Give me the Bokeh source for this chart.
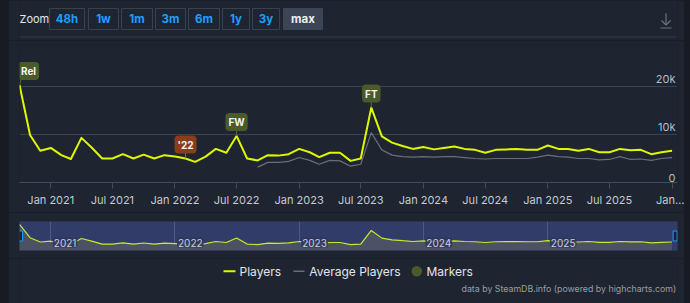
import pandas as pd
from bokeh.plotting import figure
from bokeh.models import Range1d, FixedTicker, CustomJSTickFormatter, ColumnDataSource, Spacer
from bokeh.layouts import row, column
from bokeh.core.properties import value
from bokeh.embed import file_html
from bokeh.resources import INLINE

# ---------------- data ----------------
first_month = "2020-10-01"
last_month = "2026-01-01"
players = [20.3, 9.9, 6.6,
           7.2, 5.7, 4.9, 9.3, 7.3, 5.0, 5.0, 5.9, 5.0, 5.8, 5.0, 5.7,
           5.4, 5.0, 4.3, 5.4, 7.0, 6.2, 9.7, 5.0, 4.6, 5.7, 5.6, 5.9,
           7.0, 6.3, 5.3, 6.2, 6.2, 4.5, 5.0, 15.6, 9.6, 8.3, 7.6, 7.0,
           7.4, 6.9, 7.2, 7.5, 7.0, 6.8, 6.2, 6.8, 6.9, 7.0, 6.8, 6.8,
           7.7, 7.0, 7.0, 6.6, 7.0, 6.3, 6.3, 7.0, 6.7, 6.8, 5.9, 6.3,
           6.6]  # thousands

avg_first_month = "2022-09-01"
avg_players = [3.2, 4.2, 4.2, 4.4,
               5.2, 4.6, 3.8, 4.6, 4.5, 3.4, 3.8, 10.4, 6.8, 5.7, 5.4, 5.3,
               5.4, 5.3, 5.4, 5.4, 5.2, 5.0, 4.9, 5.0, 5.0, 5.0, 5.0, 5.3,
               5.7, 5.4, 5.3, 5.0, 5.0, 4.7, 4.8, 5.4, 4.8, 4.9, 4.6, 5.0,
               5.2]  # thousands

marker_labels = ["Rel", "'22", "FW", "FT"]
marker_dates = ["2020-10-01", "2022-02-01", "2022-07-01", "2023-08-01"]
marker_types = ["release", "sale", "update", "update"]

tick_dates = ["2021-01-01", "2021-07-01", "2022-01-01", "2022-07-01", "2023-01-01", "2023-07-01",
              "2024-01-01", "2024-07-01", "2025-01-01", "2025-07-01", "2026-01-01"]
tick_labels = ["Jan 2021", "Jul 2021", "Jan 2022", "Jul 2022", "Jan 2023", "Jul 2023",
               "Jan 2024", "Jul 2024", "Jan 2025", "Jul 2025", "Jan\u2026"]
y_ticks = [0, 10000, 20000]
y_tick_labels = ["0", "10k", "20k"]
nav_years = ["2021", "2022", "2023", "2024", "2025"]
zoom_buttons = ["48h", "1w", "1m", "3m", "6m", "1y", "3y", "max"]
legend_names = ["Players", "Average Players", "Markers"]
credit_text = "data by SteamDB.info (powered by highcharts.com)"

# ---------------- styles ----------------
BG = "#1f2431"
PAGE = "#181b21"
YELLOW = "#def800"
GREY = "#6a6e77"
FONT = "Inter"
OLIVE = "#4a5a2a"
BROWN = "#8b3d1b"

months = pd.date_range(first_month, last_month, freq="MS")
avg_months = pd.date_range(avg_first_month, last_month, freq="MS")
players_v = [v * 1000 for v in players]
avg_v = [v * 1000 for v in avg_players]

x_start = pd.Timestamp(first_month)
x_end = pd.Timestamp("2026-01-17")

def to_ms(d):
    return int(pd.Timestamp(d).value // 10**6)

tick_ms = [to_ms(d) for d in tick_dates]

# frames of all stacked figures are aligned to page x 19..677
PX0, PX1 = 19, 677

# ---------------- top bar ----------------
top = figure(width=676, height=40, x_range=Range1d(PX0, PX1), y_range=Range1d(40, 0),
             x_axis_location=None, y_axis_location=None, min_border=0,
             min_border_left=11, min_border_right=7,
             toolbar_location=None, output_backend="svg",
             background_fill_color=BG, border_fill_color=BG, outline_line_color=None)
top.grid.visible = False
top.text(x=[19], y=[18.5], text=["Zoom"], text_color="#e2e5ea", text_font=value(FONT),
         text_font_size="11px", text_align="left", text_baseline="middle")
btn_left = [49, 88, 121, 155, 188, 222, 252, 283]
btn_right = [84, 118, 152, 185, 219, 249, 279, 322]
btn_fill = [BG] * 7 + ["#3b4556"]
btn_line = ["#364152"] * 7 + ["#3b4556"]
btn_text_col = ["#1a9fff"] * 7 + ["#eceef2"]
top.quad(left=btn_left, right=btn_right, top=[8] * 8, bottom=[29] * 8,
         fill_color=btn_fill, line_color=btn_line, line_width=1)
top.text(x=[(a + b) / 2 for a, b in zip(btn_left, btn_right)], y=[18.5] * 8, text=zoom_buttons,
         text_color=btn_text_col, text_font=value(FONT), text_font_style="bold",
         text_font_size="11.5px", text_align="center", text_baseline="middle")
top.segment(x0=[19], y0=[36.5], x1=[676], y1=[36.5], line_color="#323a47", line_width=1)
# download icon
top.segment(x0=[665.5, 661, 665.5, 660], y0=[13, 20, 24.5, 27.5],
            x1=[665.5, 665.5, 670, 671], y1=[24.5, 24.5, 20, 27.5],
            line_color="#6c7480", line_width=1.2)

# ---------------- main chart ----------------
main = figure(width=676, height=172, x_axis_type="datetime",
              x_range=Range1d(x_start, x_end), y_range=Range1d(0, 28750),
              y_axis_location=None, toolbar_location=None, output_backend="svg",
              min_border_left=11, min_border_right=7, min_border_top=4, min_border_bottom=30,
              background_fill_color=BG, border_fill_color=BG, outline_line_color=None)
main.xgrid.grid_line_color = None
main.ygrid.ticker = FixedTicker(ticks=[10000, 20000])
main.ygrid.grid_line_color = "#3a414f"
ax = main.xaxis[0]
ax.ticker = FixedTicker(ticks=tick_ms)
ax.formatter = CustomJSTickFormatter(args=dict(tvals=tick_ms, tlabels=tick_labels),
                                     code="const i = tvals.indexOf(tick); return i >= 0 ? tlabels[i] : '';")
ax.axis_line_color = "#3e4b60"
ax.major_tick_line_color = "#3e4b60"
ax.major_tick_out = 6
ax.major_tick_in = 0
ax.minor_tick_line_color = None
ax.major_label_text_color = "#c6cad2"
ax.major_label_text_font = FONT
ax.major_label_text_font_size = "11px"
ax.major_label_standoff = 4

main.line(avg_months, avg_v, line_color=GREY, line_width=1.2)
main.line(months, players_v, line_color=YELLOW, line_width=2, line_join="round")

main.text(x=[x_end] * 3, y=y_ticks, text=y_tick_labels, text_color="#b8bcc5",
          text_font=value(FONT), text_font_size="11px", text_align="right",
          text_baseline="bottom", x_offset=-2, y_offset=-1)

# markers (flags)
m_dates = [pd.Timestamp(d) for d in marker_dates]
m_vals = [players_v[list(months).index(d)] for d in m_dates]
m_fill = [BROWN if t == "sale" else OLIVE for t in marker_types]
m_conn = ["#c2561f" if t == "sale" else "#5c6b38" for t in marker_types]
m_dx = [9 if t == "release" else 0 for t in marker_types]
m_x1 = [d + pd.Timedelta(days=9) if t == "release" else d for d, t in zip(m_dates, marker_types)]
msrc = ColumnDataSource(dict(x=m_dates, y=m_vals, x1=m_x1, y1=[v + 2200 for v in m_vals],
                             text=marker_labels, fill=m_fill, conn=m_conn, dx=m_dx))
main.segment(x0="x", y0="y", x1="x1", y1="y1", line_color="conn", line_width=1, source=msrc)
main.text(x="x", y="y", text="text", source=msrc, x_offset="dx", y_offset=-14,
          text_color="#f2f2f2", text_font=value(FONT), text_font_style="bold",
          text_font_size="10px", text_align="center", text_baseline="middle",
          background_fill_color="fill", border_radius=4, padding=3)

# ---------------- navigator ----------------
nav = figure(width=676, height=46, x_axis_type="datetime",
             x_range=Range1d(x_start, x_end), y_range=Range1d(0, 22500),
             x_axis_location=None, y_axis_location=None, toolbar_location=None,
             output_backend="svg", min_border_left=11, min_border_right=7,
             min_border_top=9, min_border_bottom=8,
             background_fill_color="#323c68", border_fill_color=BG,
             outline_line_color="#2b3250")
jan_ms = [to_ms(f"{y}-01-01") for y in nav_years]
nav.xgrid.ticker = FixedTicker(ticks=jan_ms)
nav.xgrid.grid_line_color = "#4d5888"
nav.ygrid.grid_line_color = None
nav.varea(x=months, y1=[0] * len(months), y2=players_v, fill_color="#4b5264")
nav.line(months, players_v, line_color="#c8e92c", line_width=1.2)
nav.text(x=[pd.Timestamp(f"{y}-01-01") for y in nav_years], y=[0] * 5, text=nav_years,
         text_color="#c9cde0", text_font=value(FONT), text_font_size="10px",
         text_align="left", text_baseline="bottom", x_offset=2, y_offset=-3,
         background_fill_color="#2e3559", background_fill_alpha=0.85, padding=1, border_radius=2)
nav.rect(x=[x_start + pd.Timedelta(days=3), x_end - pd.Timedelta(days=7)], y=[11250, 11250],
         width=4, height=10, width_units="screen", height_units="screen",
         fill_color="#1d2230", line_color="#1a9fff", line_width=1)

# ---------------- legend + credits ----------------
leg = figure(width=676, height=45, x_range=Range1d(PX0, PX1), y_range=Range1d(303, 258),
             x_axis_location=None, y_axis_location=None, min_border=0,
             min_border_left=11, min_border_right=7,
             toolbar_location=None, output_backend="svg",
             background_fill_color=BG, border_fill_color=BG, outline_line_color=None)
leg.grid.visible = False
leg.segment(x0=[223], y0=[270.7], x1=[235], y1=[270.7], line_color=YELLOW, line_width=2)
leg.segment(x0=[293], y0=[270.7], x1=[304], y1=[270.7], line_color=GREY, line_width=1.5)
leg.scatter(x=[416.3], y=[270.7], size=10.5, marker="circle", fill_color=OLIVE, line_color=None)
leg.text(x=[239, 308.7, 426], y=[271, 271, 271], text=legend_names, text_color="#e3e6ea",
         text_font=value(FONT), text_font_size="12px", text_align="left", text_baseline="middle")
leg.text(x=[675.7], y=[288.3], text=[credit_text], text_color="#989ea8",
         text_font=value(FONT), text_font_size="8.8px", text_align="right", text_baseline="middle")

layout = row(Spacer(width=8, height=303), column(top, main, nav, leg), Spacer(width=6, height=303),
             styles={"background-color": PAGE})

open("out.html", "w").write(file_html(layout, INLINE))
